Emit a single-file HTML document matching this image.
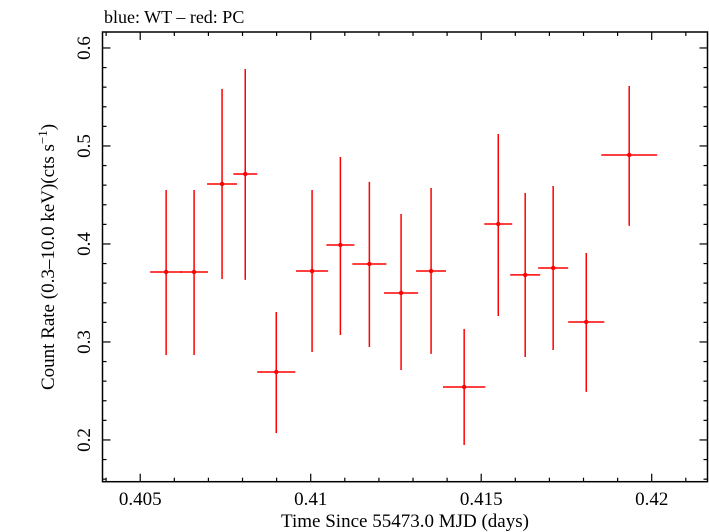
<!DOCTYPE html>
<html><head><meta charset="utf-8"><style>
html,body{margin:0;padding:0;background:#fff;}
svg{display:block;font-family:"Liberation Serif",serif;}
</style></head><body>
<svg id="chart" width="709" height="532" viewBox="0 0 709 532">
<text x="104" y="23" font-size="18">blue: WT – red: PC</text>
<rect x="102.5" y="32" width="605" height="449.7" fill="none" stroke="#000" stroke-width="1.5"/>
<g id="ticks"></g>
<g id="marks"></g>
<text x="405" y="527" font-size="19" text-anchor="middle">Time Since 55473.0 MJD (days)</text>
<text transform="translate(54,257) rotate(-90)" font-size="19" text-anchor="middle">Count Rate (0.3–10.0 keV)(cts s<tspan dy="-7" font-size="13">−1</tspan><tspan dy="7">)</tspan></text>
</svg>
<script>
const times=[0.40576,0.40658,0.40740,0.40808,0.40899,0.41004,0.41087,0.41172,0.41265,0.41353,0.41450,0.41550,0.41629,0.41711,0.41808,0.41934];
const timeErr=[0.00047,0.00041,0.00044,0.00035,0.00056,0.00047,0.00041,0.00050,0.00050,0.00044,0.00062,0.00041,0.00044,0.00044,0.00053,0.00082];
const rates=[0.3714,0.3714,0.4612,0.4714,0.2694,0.3724,0.3990,0.3796,0.3500,0.3724,0.2541,0.4204,0.3684,0.3755,0.3204,0.4908];
const rateHi=[0.4551,0.4551,0.5582,0.5786,0.3306,0.4551,0.4888,0.4633,0.4306,0.4571,0.3133,0.5122,0.4520,0.4592,0.3908,0.5612];
const rateLo=[0.2867,0.2867,0.3643,0.3633,0.2071,0.2898,0.3071,0.2949,0.2714,0.2878,0.1949,0.3265,0.2847,0.2918,0.2490,0.4184];
const xTickLabels=["0.405","0.41","0.415","0.42"];
const yTickLabels=["0.2","0.3","0.4","0.5","0.6"];

const X0=102.5,X1=707.5,Y0=481.7,Y1=32;
const xMin=0.403894,xMax=0.421636,yMin=0.1574,yMax=0.6163;
const sx=v=>X0+(v-xMin)/(xMax-xMin)*(X1-X0);
const sy=v=>Y0-(v-yMin)/(yMax-yMin)*(Y0-Y1);
const NS="http://www.w3.org/2000/svg";
function mk(tag,attrs,parent){const e=document.createElementNS(NS,tag);for(const k in attrs)e.setAttribute(k,attrs[k]);parent.appendChild(e);return e;}
const tg=document.getElementById('ticks');
// x ticks
for(let i=4;i<=21;i++){
  const v=0.4+i*0.001; if(v<xMin||v>xMax)continue;
  const x=sx(v); const major=(i%5===0); const L=major?8:4;
  const t1=mk('line',{x1:x,x2:x,y1:Y0,y2:Y0-L,stroke:'#000','stroke-width':1.2},tg);
  
  
  const t2=mk('line',{x1:x,x2:x,y1:Y1,y2:Y1+L,stroke:'#000','stroke-width':1.2},tg);
  
  
}
xTickLabels.forEach(s=>{
  const t=mk('text',{x:sx(parseFloat(s)),y:505,'font-size':19,'text-anchor':'middle'},tg);
  t.textContent=s;
  
  
});
// y ticks
for(let i=8;i<=31;i++){
  const v=i*0.02; if(v<yMin||v>yMax)continue;
  const y=sy(v); const major=(i%5===0); const L=major?8:4;
  const t1=mk('line',{x1:X0,x2:X0+L,y1:y,y2:y,stroke:'#000','stroke-width':1.2},tg);
  
  
  const t2=mk('line',{x1:X1,x2:X1-L,y1:y,y2:y,stroke:'#000','stroke-width':1.2},tg);
  
  
}
yTickLabels.forEach(s=>{
  const y=sy(parseFloat(s));
  const t=mk('text',{x:0,y:0,'font-size':19,'text-anchor':'middle',transform:`translate(90,${y}) rotate(-90)`},tg);
  t.textContent=s;
  
  
});
// data
const mg=document.getElementById('marks');
times.forEach((t,i)=>{
  const g=mk('g',{},mg);
  
  
  mk('line',{x1:sx(t-timeErr[i]),x2:sx(t+timeErr[i]),y1:sy(rates[i]),y2:sy(rates[i]),stroke:'#f00','stroke-width':1.5},g);
  mk('line',{x1:sx(t),x2:sx(t),y1:sy(rateLo[i]),y2:sy(rateHi[i]),stroke:'#f00','stroke-width':1.5},g);
  mk('circle',{cx:sx(t),cy:sy(rates[i]),r:2.2,fill:'#f00'},g);
});
</script>
</body></html>
